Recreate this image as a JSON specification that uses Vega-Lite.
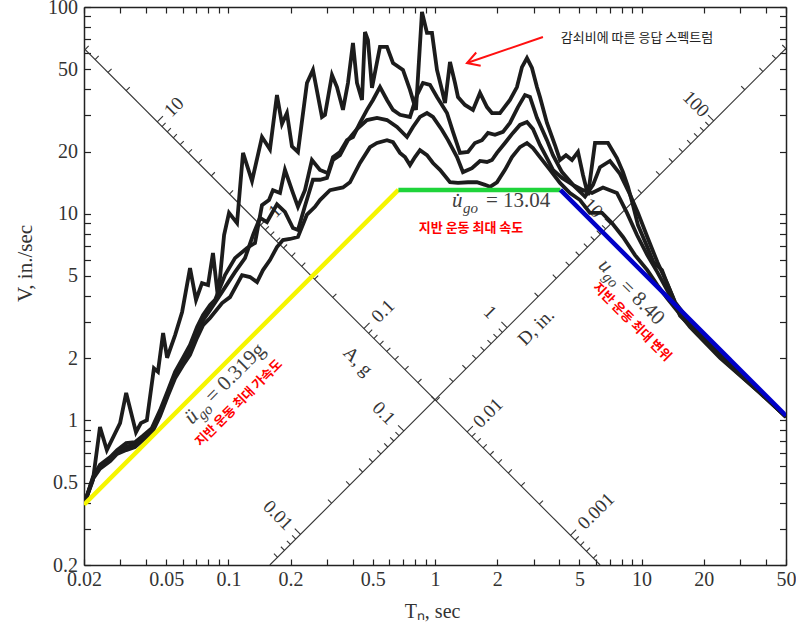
{
  "$schema": "https://vega.github.io/schema/vega-lite/v6.json",
  "width": 702,
  "height": 558,
  "autosize": {"type": "none"},
  "padding": {"left": 84, "top": 7, "right": 10, "bottom": 61},
  "background": "white",
  "config": {"view": {"stroke": null}},
  "datasets": {
    "spec": [
      {"c":1,"T":0.0202,"V":0.403},{"c":1,"T":0.0221,"V":0.515},{"c":1,"T":0.0239,"V":0.929},{"c":1,"T":0.0258,"V":0.72},{"c":1,"T":0.0299,"V":0.971},{"c":1,"T":0.0320,"V":1.36},{"c":1,"T":0.0357,"V":0.878},{"c":1,"T":0.0377,"V":0.971},{"c":1,"T":0.0403,"V":1.004},{"c":1,"T":0.0436,"V":1.79},{"c":1,"T":0.0456,"V":1.72},{"c":1,"T":0.0483,"V":2.65},{"c":1,"T":0.0505,"V":2.01},{"c":1,"T":0.0552,"V":2.59},{"c":1,"T":0.0597,"V":3.35},{"c":1,"T":0.0652,"V":5.46},{"c":1,"T":0.0697,"V":3.83},{"c":1,"T":0.0745,"V":4.62},{"c":1,"T":0.0797,"V":4.52},{"c":1,"T":0.0842,"V":6.46},{"c":1,"T":0.0891,"V":3.9},{"c":1,"T":0.0953,"V":7.89},{"c":1,"T":0.1007,"V":10.1},{"c":1,"T":0.1101,"V":9.01},{"c":1,"T":0.1177,"V":19.7},{"c":1,"T":0.1301,"V":14.4},{"c":1,"T":0.1454,"V":23.5},{"c":1,"T":0.1589,"V":20.5},{"c":1,"T":0.1718,"V":37.5},{"c":1,"T":0.1817,"V":27.2},{"c":1,"T":0.1920,"V":30.7},{"c":1,"T":0.2030,"V":21.2},{"c":1,"T":0.2171,"V":19.9},{"c":1,"T":0.2400,"V":42.9},{"c":1,"T":0.2566,"V":49.6},{"c":1,"T":0.2837,"V":29.4},{"c":1,"T":0.2934,"V":30.1},{"c":1,"T":0.3172,"V":46.9},{"c":1,"T":0.3353,"V":41.0},{"c":1,"T":0.3585,"V":31.8},{"c":1,"T":0.3791,"V":42.9},{"c":1,"T":0.4008,"V":67.0},{"c":1,"T":0.4191,"V":42.9},{"c":1,"T":0.4432,"V":35.5},{"c":1,"T":0.4582,"V":75.7},{"c":1,"T":0.4738,"V":69.2},{"c":1,"T":0.4954,"V":40.6},{"c":1,"T":0.5416,"V":64.1},{"c":1,"T":0.5856,"V":64.1},{"c":1,"T":0.6261,"V":53.6},{"c":1,"T":0.6998,"V":49.6},{"c":1,"T":0.7566,"V":39.7},{"c":1,"T":0.8089,"V":31.8},{"c":1,"T":0.8648,"V":94.6},{"c":1,"T":0.9145,"V":74.9},{"c":1,"T":0.9669,"V":74.9},{"c":1,"T":1.0223,"V":49.6},{"c":1,"T":1.081,"V":39.7},{"c":1,"T":1.118,"V":34.3},{"c":1,"T":1.182,"V":54.2},{"c":1,"T":1.250,"V":42.9},{"c":1,"T":1.292,"V":36.7},{"c":1,"T":1.397,"V":33.6},{"c":1,"T":1.527,"V":31.8},{"c":1,"T":1.651,"V":38.4},{"c":1,"T":1.785,"V":32.8},{"c":1,"T":1.887,"V":30.7},{"c":1,"T":2.063,"V":30.7},{"c":1,"T":2.306,"V":35.5},{"c":1,"T":2.493,"V":41.0},{"c":1,"T":2.636,"V":51.2},{"c":1,"T":2.787,"V":56.6},{"c":1,"T":2.947,"V":50.7},{"c":1,"T":3.115,"V":41.0},{"c":1,"T":3.222,"V":36.7},{"c":1,"T":3.483,"V":27.5},{"c":1,"T":3.808,"V":21.5},{"c":1,"T":4.027,"V":18.2},{"c":1,"T":4.306,"V":19.2},{"c":1,"T":4.604,"V":18.2},{"c":1,"T":4.922,"V":19.9},{"c":1,"T":5.204,"V":15.4},{"c":1,"T":5.503,"V":12.3},{"c":1,"T":5.950,"V":22.0},{"c":1,"T":6.874,"V":22.0},{"c":1,"T":7.597,"V":18.6},{"c":1,"T":8.128,"V":15.9},{"c":1,"T":8.593,"V":13.5},{"c":1,"T":9.085,"V":11.0},{"c":1,"T":9.607,"V":8.81},{"c":1,"T":10.66,"V":6.90},{"c":1,"T":11.40,"V":5.84},{"c":1,"T":12.55,"V":5.34},{"c":1,"T":13.27,"V":4.62},{"c":1,"T":14.03,"V":4.04},{"c":1,"T":15.34,"V":3.21},{"c":1,"T":19.17,"V":2.59},{"c":1,"T":23.96,"V":2.10},{"c":1,"T":29.94,"V":1.70},{"c":1,"T":37.4,"V":1.38},{"c":1,"T":50,"V":1.041},

      {"c":2,"T":0.0202,"V":0.403},{"c":2,"T":0.0221,"V":0.533},{"c":2,"T":0.0239,"V":0.610},{"c":2,"T":0.0268,"V":0.666},{"c":2,"T":0.0289,"V":0.719},{"c":2,"T":0.0320,"V":0.777},{"c":2,"T":0.0353,"V":0.786},{"c":2,"T":0.0386,"V":0.845},{"c":2,"T":0.0426,"V":0.919},{"c":2,"T":0.0467,"V":1.122},{"c":2,"T":0.0510,"V":1.40},{"c":2,"T":0.0552,"V":1.72},{"c":2,"T":0.0603,"V":2.01},{"c":2,"T":0.0652,"V":2.32},{"c":2,"T":0.0705,"V":2.83},{"c":2,"T":0.0754,"V":3.24},{"c":2,"T":0.0815,"V":3.62},{"c":2,"T":0.0862,"V":3.83},{"c":2,"T":0.0963,"V":5.05},{"c":2,"T":0.1076,"V":6.10},{"c":2,"T":0.1231,"V":6.83},{"c":2,"T":0.1345,"V":7.22},{"c":2,"T":0.1454,"V":11.0},{"c":2,"T":0.1572,"V":11.65},{"c":2,"T":0.1643,"V":13.0},{"c":2,"T":0.1777,"V":12.6},{"c":2,"T":0.1878,"V":16.3},{"c":2,"T":0.2030,"V":13.0},{"c":2,"T":0.2171,"V":10.8},{"c":2,"T":0.2347,"V":13.0},{"c":2,"T":0.2537,"V":18.2},{"c":2,"T":0.2775,"V":16.3},{"c":2,"T":0.3034,"V":15.7},{"c":2,"T":0.3207,"V":18.8},{"c":2,"T":0.3468,"V":19.9},{"c":2,"T":0.3749,"V":22.7},{"c":2,"T":0.4008,"V":23.5},{"c":2,"T":0.4334,"V":27.5},{"c":2,"T":0.4685,"V":31.8},{"c":2,"T":0.5010,"V":35.5},{"c":2,"T":0.5416,"V":41.0},{"c":2,"T":0.5856,"V":35.5},{"c":2,"T":0.6261,"V":31.8},{"c":2,"T":0.6768,"V":30.1},{"c":2,"T":0.7566,"V":29.4},{"c":2,"T":0.8180,"V":37.5},{"c":2,"T":0.8745,"V":42.9},{"c":2,"T":0.9456,"V":42.0},{"c":2,"T":1.0223,"V":36.7},{"c":2,"T":1.143,"V":30.7},{"c":2,"T":1.222,"V":24.9},{"c":2,"T":1.321,"V":19.7},{"c":2,"T":1.444,"V":19.9},{"c":2,"T":1.561,"V":22.0},{"c":2,"T":1.688,"V":22.7},{"c":2,"T":1.805,"V":24.6},{"c":2,"T":1.951,"V":24.1},{"c":2,"T":2.133,"V":24.9},{"c":2,"T":2.306,"V":27.5},{"c":2,"T":2.521,"V":32.8},{"c":2,"T":2.726,"V":37.5},{"c":2,"T":2.882,"V":36.7},{"c":2,"T":3.115,"V":29.1},{"c":2,"T":3.483,"V":22.7},{"c":2,"T":3.724,"V":19.2},{"c":2,"T":4.118,"V":15.9},{"c":2,"T":4.655,"V":13.8},{"c":2,"T":5.322,"V":12.1},{"c":2,"T":5.819,"V":13.8},{"c":2,"T":6.290,"V":16.8},{"c":2,"T":7.030,"V":18.0},{"c":2,"T":7.860,"V":15.6},{"c":2,"T":8.787,"V":12.4},{"c":2,"T":9.607,"V":10.1},{"c":2,"T":10.66,"V":7.72},{"c":2,"T":11.92,"V":5.84},{"c":2,"T":13.27,"V":4.62},{"c":2,"T":14.51,"V":3.74},{"c":2,"T":17.15,"V":3.00},{"c":2,"T":23.96,"V":2.06},{"c":2,"T":37.4,"V":1.37},{"c":2,"T":50,"V":1.041},

      {"c":3,"T":0.0202,"V":0.403},{"c":3,"T":0.0221,"V":0.527},{"c":3,"T":0.0239,"V":0.597},{"c":3,"T":0.0268,"V":0.651},{"c":3,"T":0.0289,"V":0.704},{"c":3,"T":0.0320,"V":0.744},{"c":3,"T":0.0353,"V":0.770},{"c":3,"T":0.0386,"V":0.827},{"c":3,"T":0.0426,"V":0.898},{"c":3,"T":0.0467,"V":1.088},{"c":3,"T":0.0510,"V":1.36},{"c":3,"T":0.0552,"V":1.66},{"c":3,"T":0.0603,"V":1.92},{"c":3,"T":0.0652,"V":2.19},{"c":3,"T":0.0705,"V":2.68},{"c":3,"T":0.0754,"V":3.06},{"c":3,"T":0.0815,"V":3.42},{"c":3,"T":0.0932,"V":4.19},{"c":3,"T":0.1076,"V":5.22},{"c":3,"T":0.1203,"V":6.10},{"c":3,"T":0.1316,"V":7.89},{"c":3,"T":0.1422,"V":9.56},{"c":3,"T":0.1537,"V":9.12},{"c":3,"T":0.1718,"V":11.1},{"c":3,"T":0.1878,"V":10.2},{"c":3,"T":0.2053,"V":8.53},{"c":3,"T":0.2171,"V":8.34},{"c":3,"T":0.2347,"V":10.9},{"c":3,"T":0.2566,"V":14.6},{"c":3,"T":0.2775,"V":14.6},{"c":3,"T":0.3000,"V":14.9},{"c":3,"T":0.3207,"V":18.2},{"c":3,"T":0.3468,"V":19.2},{"c":3,"T":0.3791,"V":22.7},{"c":3,"T":0.4191,"V":25.7},{"c":3,"T":0.4685,"V":28.4},{"c":3,"T":0.5238,"V":29.1},{"c":3,"T":0.5856,"V":28.4},{"c":3,"T":0.6547,"V":26.3},{"c":3,"T":0.7317,"V":23.5},{"c":3,"T":0.7823,"V":26.3},{"c":3,"T":0.8458,"V":29.4},{"c":3,"T":0.9145,"V":30.7},{"c":3,"T":0.9777,"V":29.4},{"c":3,"T":1.081,"V":25.4},{"c":3,"T":1.156,"V":22.7},{"c":3,"T":1.278,"V":18.8},{"c":3,"T":1.366,"V":15.9},{"c":3,"T":1.510,"V":16.6},{"c":3,"T":1.651,"V":18.0},{"c":3,"T":1.785,"V":17.8},{"c":3,"T":1.887,"V":18.2},{"c":3,"T":1.995,"V":19.7},{"c":3,"T":2.181,"V":22.0},{"c":3,"T":2.384,"V":24.6},{"c":3,"T":2.578,"V":26.9},{"c":3,"T":2.787,"V":27.8},{"c":3,"T":2.980,"V":25.7},{"c":3,"T":3.222,"V":21.5},{"c":3,"T":3.483,"V":18.6},{"c":3,"T":3.724,"V":16.3},{"c":3,"T":4.118,"V":14.9},{"c":3,"T":4.655,"V":13.8},{"c":3,"T":5.204,"V":13.0},{"c":3,"T":5.754,"V":12.6},{"c":3,"T":6.504,"V":13.4},{"c":3,"T":7.597,"V":12.6},{"c":3,"T":8.497,"V":10.1},{"c":3,"T":9.500,"V":7.89},{"c":3,"T":10.66,"V":6.31},{"c":3,"T":11.92,"V":5.22},{"c":3,"T":13.27,"V":4.28},{"c":3,"T":14.51,"V":3.62},{"c":3,"T":17.15,"V":2.90},{"c":3,"T":23.96,"V":2.03},{"c":3,"T":37.4,"V":1.36},{"c":3,"T":50,"V":1.041},

      {"c":4,"T":0.0202,"V":0.403},{"c":4,"T":0.0221,"V":0.521},{"c":4,"T":0.0239,"V":0.584},{"c":4,"T":0.0268,"V":0.637},{"c":4,"T":0.0289,"V":0.689},{"c":4,"T":0.0320,"V":0.719},{"c":4,"T":0.0353,"V":0.744},{"c":4,"T":0.0386,"V":0.804},{"c":4,"T":0.0426,"V":0.868},{"c":4,"T":0.0467,"V":1.052},{"c":4,"T":0.0510,"V":1.32},{"c":4,"T":0.0552,"V":1.60},{"c":4,"T":0.0603,"V":1.85},{"c":4,"T":0.0652,"V":2.08},{"c":4,"T":0.0705,"V":2.51},{"c":4,"T":0.0754,"V":2.89},{"c":4,"T":0.0815,"V":3.13},{"c":4,"T":0.0932,"V":3.70},{"c":4,"T":0.1018,"V":3.95},{"c":4,"T":0.1164,"V":5.05},{"c":4,"T":0.1272,"V":4.94},{"c":4,"T":0.1376,"V":4.67},{"c":4,"T":0.1470,"V":5.34},{"c":4,"T":0.1589,"V":5.97},{"c":4,"T":0.1718,"V":6.90},{"c":4,"T":0.1837,"V":7.46},{"c":4,"T":0.1986,"V":7.55},{"c":4,"T":0.2171,"V":7.72},{"c":4,"T":0.2400,"V":9.9},{"c":4,"T":0.2624,"V":10.8},{"c":4,"T":0.2775,"V":11.65},{"c":4,"T":0.3102,"V":13.0},{"c":4,"T":0.3585,"V":13.4},{"c":4,"T":0.3876,"V":14.2},{"c":4,"T":0.4334,"V":17.6},{"c":4,"T":0.4845,"V":21.0},{"c":4,"T":0.5238,"V":22.0},{"c":4,"T":0.5856,"V":22.7},{"c":4,"T":0.6261,"V":22.2},{"c":4,"T":0.6768,"V":19.7},{"c":4,"T":0.7156,"V":18.8},{"c":4,"T":0.7566,"V":17.2},{"c":4,"T":0.7999,"V":18.8},{"c":4,"T":0.8458,"V":20.3},{"c":4,"T":0.9145,"V":19.2},{"c":4,"T":0.9777,"V":17.6},{"c":4,"T":1.057,"V":16.3},{"c":4,"T":1.182,"V":14.2},{"c":4,"T":1.292,"V":14.1},{"c":4,"T":1.444,"V":14.2},{"c":4,"T":1.596,"V":14.2},{"c":4,"T":1.746,"V":13.8},{"c":4,"T":1.846,"V":13.5},{"c":4,"T":1.995,"V":14.2},{"c":4,"T":2.181,"V":16.3},{"c":4,"T":2.358,"V":18.8},{"c":4,"T":2.578,"V":21.0},{"c":4,"T":2.787,"V":22.0},{"c":4,"T":2.980,"V":20.8},{"c":4,"T":3.222,"V":18.8},{"c":4,"T":3.602,"V":16.3},{"c":4,"T":4.027,"V":14.1},{"c":4,"T":4.502,"V":12.6},{"c":4,"T":5.033,"V":11.65},{"c":4,"T":5.627,"V":10.1},{"c":4,"T":6.432,"V":10.1},{"c":4,"T":7.188,"V":9.01},{"c":4,"T":8.128,"V":7.72},{"c":4,"T":9.290,"V":6.31},{"c":4,"T":10.66,"V":5.34},{"c":4,"T":11.92,"V":4.52},{"c":4,"T":13.27,"V":3.91},{"c":4,"T":14.51,"V":3.50},{"c":4,"T":17.15,"V":2.83},{"c":4,"T":23.96,"V":2.01},{"c":4,"T":37.4,"V":1.36},{"c":4,"T":50,"V":1.041}
    ],
    "ticks": [
      {"ax":"A","k":"minor","T":5.842,"V":0.2157},{"ax":"A","k":"minor","T":5.409,"V":0.2330},{"ax":"A","k":"minor","T":5.059,"V":0.2490},{"ax":"A","k":"minor","T":4.770,"V":0.2642},{"ax":"A","k":"major","T":4.525,"V":0.2784},
      {"ax":"A","k":"minor","T":3.200,"V":0.3938},{"ax":"A","k":"minor","T":2.613,"V":0.4823},{"ax":"A","k":"minor","T":2.263,"V":0.5569},{"ax":"A","k":"minor","T":2.024,"V":0.6226},{"ax":"A","k":"minor","T":1.847,"V":0.6820},{"ax":"A","k":"minor","T":1.710,"V":0.7367},{"ax":"A","k":"minor","T":1.600,"V":0.7875},{"ax":"A","k":"minor","T":1.508,"V":0.8353},{"ax":"A","k":"major","T":1.431,"V":0.8805},
      {"ax":"A","k":"minor","T":1.0119,"V":1.2452},{"ax":"A","k":"minor","T":0.8262,"V":1.5251},{"ax":"A","k":"minor","T":0.7155,"V":1.761},{"ax":"A","k":"minor","T":0.6400,"V":1.9689},{"ax":"A","k":"minor","T":0.5842,"V":2.1568},{"ax":"A","k":"minor","T":0.5409,"V":2.3296},{"ax":"A","k":"minor","T":0.5059,"V":2.4904},{"ax":"A","k":"minor","T":0.4770,"V":2.6415},{"ax":"A","k":"major","T":0.4525,"V":2.7844},
      {"ax":"A","k":"minor","T":0.3200,"V":3.9377},{"ax":"A","k":"minor","T":0.2613,"V":4.8227},{"ax":"A","k":"minor","T":0.2263,"V":5.5688},{"ax":"A","k":"minor","T":0.2024,"V":6.2261},{"ax":"A","k":"minor","T":0.1847,"V":6.8204},{"ax":"A","k":"minor","T":0.1710,"V":7.3668},{"ax":"A","k":"minor","T":0.1600,"V":7.8755},{"ax":"A","k":"minor","T":0.1508,"V":8.3531},{"ax":"A","k":"major","T":0.1431,"V":8.805},
      {"ax":"A","k":"minor","T":0.10119,"V":12.452},{"ax":"A","k":"minor","T":0.08262,"V":15.251},{"ax":"A","k":"minor","T":0.07155,"V":17.61},{"ax":"A","k":"minor","T":0.06400,"V":19.689},{"ax":"A","k":"minor","T":0.05842,"V":21.568},{"ax":"A","k":"minor","T":0.05409,"V":23.296},{"ax":"A","k":"minor","T":0.05059,"V":24.904},{"ax":"A","k":"minor","T":0.04770,"V":26.415},{"ax":"A","k":"major","T":0.04525,"V":27.844},
      {"ax":"A","k":"minor","T":0.03200,"V":39.377},{"ax":"A","k":"minor","T":0.02613,"V":48.227},{"ax":"A","k":"minor","T":0.02263,"V":55.688},{"ax":"A","k":"minor","T":0.02024,"V":62.261},
      {"ax":"D","k":"minor","T":0.17298,"V":0.21795},{"ax":"D","k":"minor","T":0.18683,"V":0.23541},{"ax":"D","k":"minor","T":0.19974,"V":0.25167},{"ax":"D","k":"minor","T":0.21185,"V":0.26693},{"ax":"D","k":"major","T":0.22331,"V":0.28137},
      {"ax":"D","k":"minor","T":0.31581,"V":0.39791},{"ax":"D","k":"minor","T":0.38679,"V":0.48736},{"ax":"D","k":"minor","T":0.44662,"V":0.56274},{"ax":"D","k":"minor","T":0.49934,"V":0.62916},{"ax":"D","k":"minor","T":0.54700,"V":0.68922},{"ax":"D","k":"minor","T":0.59084,"V":0.74444},{"ax":"D","k":"minor","T":0.63161,"V":0.79583},{"ax":"D","k":"minor","T":0.66993,"V":0.84411},{"ax":"D","k":"major","T":0.70617,"V":0.88977},
      {"ax":"D","k":"minor","T":0.99866,"V":1.2583},{"ax":"D","k":"minor","T":1.2231,"V":1.5411},{"ax":"D","k":"minor","T":1.4123,"V":1.7796},{"ax":"D","k":"minor","T":1.5791,"V":1.9896},{"ax":"D","k":"minor","T":1.7298,"V":2.1795},{"ax":"D","k":"minor","T":1.8683,"V":2.3541},{"ax":"D","k":"minor","T":1.9974,"V":2.5167},{"ax":"D","k":"minor","T":2.1185,"V":2.6693},{"ax":"D","k":"major","T":2.2331,"V":2.8137},
      {"ax":"D","k":"minor","T":3.1581,"V":3.9791},{"ax":"D","k":"minor","T":3.8679,"V":4.8736},{"ax":"D","k":"minor","T":4.4662,"V":5.6274},{"ax":"D","k":"minor","T":4.9934,"V":6.2916},{"ax":"D","k":"minor","T":5.4700,"V":6.8922},{"ax":"D","k":"minor","T":5.9084,"V":7.4444},{"ax":"D","k":"minor","T":6.3161,"V":7.9583},{"ax":"D","k":"minor","T":6.6993,"V":8.4411},{"ax":"D","k":"major","T":7.0617,"V":8.8977},
      {"ax":"D","k":"minor","T":9.9866,"V":12.583},{"ax":"D","k":"minor","T":12.231,"V":15.411},{"ax":"D","k":"minor","T":14.123,"V":17.796},{"ax":"D","k":"minor","T":15.791,"V":19.896},{"ax":"D","k":"minor","T":17.298,"V":21.795},{"ax":"D","k":"minor","T":18.683,"V":23.541},{"ax":"D","k":"minor","T":19.974,"V":25.167},{"ax":"D","k":"minor","T":21.185,"V":26.693},{"ax":"D","k":"major","T":22.331,"V":28.137},
      {"ax":"D","k":"minor","T":31.581,"V":39.791},{"ax":"D","k":"minor","T":38.679,"V":48.736},{"ax":"D","k":"minor","T":44.662,"V":56.274},{"ax":"D","k":"minor","T":49.934,"V":62.916}
    ]
  },
  "layer": [
    {
      "data": {"values": [{"T":0.02,"V":63.0,"T2":6.3,"V2":0.2},{"T":0.15873,"V":0.2,"T2":50,"V2":63.0}]},
      "mark": {"type": "rule", "stroke": "#333333", "strokeWidth": 1.1, "clip": true},
      "encoding": {
        "x": {"field":"T","type":"quantitative","scale":{"type":"log","domain":[0.02,50],"nice":false},
          "axis": {"orient":"top","values":[0.02,0.03,0.04,0.05,0.06,0.07,0.08,0.09,0.1,0.2,0.3,0.4,0.5,0.6,0.7,0.8,0.9,1,2,3,4,5,6,7,8,9,10,20,30,40,50],"labels":false,"title":null,"grid":false,"tickSize":-6,"tickColor":"#222222","tickWidth":1.2,"domainColor":"#222222","domainWidth":1.5}},
        "y": {"field":"V","type":"quantitative","scale":{"type":"log","domain":[0.2,100],"nice":false},
          "axis": {"orient":"right","values":[0.2,0.3,0.4,0.5,0.6,0.7,0.8,0.9,1,2,3,4,5,6,7,8,9,10,20,30,40,50,60,70,80,90,100],"labels":false,"title":null,"grid":false,"tickSize":-6.5,"tickColor":"#222222","tickWidth":1.2,"domainColor":"#222222","domainWidth":1.5}},
        "x2": {"field":"T2"},
        "y2": {"field":"V2"}
      }
    },
    {
      "data": {"name": "ticks"},
      "transform": [{"filter": "datum.ax == 'A' && datum.k == 'major'"}],
      "mark": {"type": "rule", "stroke": "#333333", "strokeWidth": 1.1, "x2Offset": 5.7, "y2Offset": -5.7},
      "encoding": {
        "x": {"field":"T","type":"quantitative","scale":{"type":"log","domain":[0.02,50],"nice":false},"axis":null},
        "y": {"field":"V","type":"quantitative","scale":{"type":"log","domain":[0.2,100],"nice":false},"axis":null},
        "x2": {"field":"T"},
        "y2": {"field":"V"}
      }
    },
    {
      "data": {"name": "ticks"},
      "transform": [{"filter": "datum.ax == 'A' && datum.k == 'minor'"}],
      "mark": {"type": "rule", "stroke": "#333333", "strokeWidth": 1.1, "x2Offset": 3.6, "y2Offset": -3.6},
      "encoding": {
        "x": {"field":"T","type":"quantitative","scale":{"type":"log","domain":[0.02,50],"nice":false},"axis":null},
        "y": {"field":"V","type":"quantitative","scale":{"type":"log","domain":[0.2,100],"nice":false},"axis":null},
        "x2": {"field":"T"},
        "y2": {"field":"V"}
      }
    },
    {
      "data": {"name": "ticks"},
      "transform": [{"filter": "datum.ax == 'D' && datum.k == 'major'"}],
      "mark": {"type": "rule", "stroke": "#333333", "strokeWidth": 1.1, "x2Offset": -5.7, "y2Offset": -5.7},
      "encoding": {
        "x": {"field":"T","type":"quantitative","scale":{"type":"log","domain":[0.02,50],"nice":false},"axis":null},
        "y": {"field":"V","type":"quantitative","scale":{"type":"log","domain":[0.2,100],"nice":false},"axis":null},
        "x2": {"field":"T"},
        "y2": {"field":"V"}
      }
    },
    {
      "data": {"name": "ticks"},
      "transform": [{"filter": "datum.ax == 'D' && datum.k == 'minor'"}],
      "mark": {"type": "rule", "stroke": "#333333", "strokeWidth": 1.1, "x2Offset": -3.6, "y2Offset": -3.6},
      "encoding": {
        "x": {"field":"T","type":"quantitative","scale":{"type":"log","domain":[0.02,50],"nice":false},"axis":null},
        "y": {"field":"V","type":"quantitative","scale":{"type":"log","domain":[0.2,100],"nice":false},"axis":null},
        "x2": {"field":"T"},
        "y2": {"field":"V"}
      }
    },
    {
      "data": {"values": [{"t":"10","T":0.0545,"V":32.8},{"t":"1","T":0.168,"V":10.3},{"t":"0.1","T":0.560,"V":3.38},{"t":"0.01","T":1.805,"V":1.086},{"t":"0.001","T":6.015,"V":0.3644},{"t":"D, in.","T":3.083,"V":2.83}]},
      "mark": {"type":"text","angle":315,"font":"Liberation Serif","fontSize":19,"color":"#333333","align":"center","baseline":"middle"},
      "encoding": {
        "x": {"field":"T","type":"quantitative","scale":{"type":"log","domain":[0.02,50],"nice":false},"axis":null},
        "y": {"field":"V","type":"quantitative","scale":{"type":"log","domain":[0.2,100],"nice":false},"axis":null},
        "text": {"field":"t"}
      }
    },
    {
      "data": {"values": [{"t":"0.01","T":0.1738,"V":0.3485},{"t":"0.1","T":0.566,"V":1.086},{"t":"1","T":1.846,"V":3.345},{"t":"10","T":5.817,"V":10.66},{"t":"100","T":18.33,"V":33.95},{"t":"A, g","T":0.424,"V":1.939}]},
      "mark": {"type":"text","angle":45,"font":"Liberation Serif","fontSize":19,"color":"#333333","align":"center","baseline":"middle"},
      "encoding": {
        "x": {"field":"T","type":"quantitative","scale":{"type":"log","domain":[0.02,50],"nice":false},"axis":null},
        "y": {"field":"V","type":"quantitative","scale":{"type":"log","domain":[0.2,100],"nice":false},"axis":null},
        "text": {"field":"t"}
      }
    },
    {
      "data": {"name": "spec"},
      "mark": {"type": "line", "stroke": "#1c1c1c", "strokeWidth": 3.8, "clip": true},
      "encoding": {
        "x": {"field":"T","type":"quantitative","scale":{"type":"log","domain":[0.02,50],"nice":false},
          "axis": {"orient":"bottom","values":[0.02,0.03,0.04,0.05,0.06,0.07,0.08,0.09,0.1,0.2,0.3,0.4,0.5,0.6,0.7,0.8,0.9,1,2,3,4,5,6,7,8,9,10,20,30,40,50],"format":"~g","labelExpr":"indexof([0.02,0.05,0.1,0.2,0.5,1,2,5,10,20,50], datum.value) >= 0 ? datum.label : ''","labelOverlap":false,"labelFlush":false,"labelBound":false,"labelFont":"Liberation Serif","labelFontSize":20,"labelColor":"#333333","labelPadding":10,"grid":false,"tickSize":-6,"tickColor":"#222222","tickWidth":1.2,"domainColor":"#222222","domainWidth":1.5,"title":"Tₙ, sec","titleFont":"Liberation Serif","titleFontSize":20,"titleFontWeight":"normal","titleColor":"#333333","titleX":348,"titleY":46,"titleBaseline":"middle","titleAlign":"center"}},
        "y": {"field":"V","type":"quantitative","scale":{"type":"log","domain":[0.2,100],"nice":false},
          "axis": {"orient":"left","values":[0.2,0.3,0.4,0.5,0.6,0.7,0.8,0.9,1,2,3,4,5,6,7,8,9,10,20,30,40,50,60,70,80,90,100],"format":"~g","labelExpr":"indexof([0.2,0.5,1,2,5,10,20,50,100], datum.value) >= 0 ? datum.label : ''","labelOverlap":false,"labelFlush":false,"labelBound":false,"labelFont":"Liberation Serif","labelFontSize":20,"labelColor":"#333333","labelPadding":13,"grid":false,"tickSize":-6.5,"tickColor":"#222222","tickWidth":1.2,"domainColor":"#222222","domainWidth":1.5,"title":"V, in./sec","titleFont":"Liberation Serif","titleFontSize":21,"titleFontWeight":"normal","titleColor":"#333333","titleX":-59,"titleY":256,"titleAngle":270,"titleBaseline":"middle","titleAlign":"center"}},
        "detail": {"field":"c","type":"nominal"}
      }
    },
    {
      "data": {"values": [{"seg":"acc","T":0.02,"V":0.392,"T2":0.665,"V2":13.04},{"seg":"vel","T":0.665,"V":13.04,"T2":4.047,"V2":13.04},{"seg":"disp","T":4.047,"V":13.04,"T2":50,"V2":1.056}]},
      "mark": {"type": "rule", "strokeWidth": 4.5, "clip": true},
      "encoding": {
        "x": {"field":"T","type":"quantitative","scale":{"type":"log","domain":[0.02,50],"nice":false},"axis":null},
        "y": {"field":"V","type":"quantitative","scale":{"type":"log","domain":[0.2,100],"nice":false},"axis":null},
        "x2": {"field":"T2"},
        "y2": {"field":"V2"},
        "color": {"field":"seg","type":"nominal","scale":{"domain":["acc","vel","disp"],"range":["#f5f500","#1fd43a","#0000c8"]},"legend":null}
      }
    },
    {
      "data": {"values": [{"T":3.331,"V":71.6,"T2":1.428,"V2":53.6}]},
      "mark": {"type": "rule", "stroke": "#ff1010", "strokeWidth": 2},
      "encoding": {
        "x": {"field":"T","type":"quantitative","scale":{"type":"log","domain":[0.02,50],"nice":false},"axis":null},
        "y": {"field":"V","type":"quantitative","scale":{"type":"log","domain":[0.2,100],"nice":false},"axis":null},
        "x2": {"field":"T2"},
        "y2": {"field":"V2"}
      }
    },
    {
      "data": {"values": [{"T":1.428,"V":53.6}]},
      "mark": {"type": "point", "shape": "M0.98,0.19L0,0L0.66,-0.75", "size": 784, "filled": false, "stroke": "#ff1010", "strokeWidth": 2, "opacity": 1},
      "encoding": {
        "x": {"field":"T","type":"quantitative","scale":{"type":"log","domain":[0.02,50],"nice":false},"axis":null},
        "y": {"field":"V","type":"quantitative","scale":{"type":"log","domain":[0.2,100],"nice":false},"axis":null}
      }
    },
    {
      "data": {"values": [{"t":"감쇠비에 따른 응답 스펙트럼","T":9.50,"V":70.8}]},
      "mark": {"type":"text","font":"Noto Sans CJK KR","fontSize":13,"color":"#222222","align":"center","baseline":"middle"},
      "encoding": {
        "x": {"field":"T","type":"quantitative","scale":{"type":"log","domain":[0.02,50],"nice":false},"axis":null},
        "y": {"field":"V","type":"quantitative","scale":{"type":"log","domain":[0.2,100],"nice":false},"axis":null},
        "text": {"field":"t"}
      }
    },
    {
      "data": {"values": [{"t":"지반 운동 최대 가속도","T":0.1125,"V":1.214}]},
      "mark": {"type":"text","angle":315,"font":"Noto Sans CJK KR","fontSize":13,"fontWeight":"bold","color":"#ff0000","align":"center","baseline":"middle"},
      "encoding": {
        "x": {"field":"T","type":"quantitative","scale":{"type":"log","domain":[0.02,50],"nice":false},"axis":null},
        "y": {"field":"V","type":"quantitative","scale":{"type":"log","domain":[0.2,100],"nice":false},"axis":null},
        "text": {"field":"t"}
      }
    },
    {
      "data": {"values": [{"t":"지반 운동 최대 속도","T":1.494,"V":8.527}]},
      "mark": {"type":"text","font":"Noto Sans CJK KR","fontSize":13,"fontWeight":"bold","color":"#ff0000","align":"center","baseline":"middle"},
      "encoding": {
        "x": {"field":"T","type":"quantitative","scale":{"type":"log","domain":[0.02,50],"nice":false},"axis":null},
        "y": {"field":"V","type":"quantitative","scale":{"type":"log","domain":[0.2,100],"nice":false},"axis":null},
        "text": {"field":"t"}
      }
    },
    {
      "data": {"values": [{"t":"지반 운동 최대 변위","T":8.985,"V":2.993}]},
      "mark": {"type":"text","angle":45,"font":"Noto Sans CJK KR","fontSize":13,"fontWeight":"bold","color":"#ff0000","align":"center","baseline":"middle"},
      "encoding": {
        "x": {"field":"T","type":"quantitative","scale":{"type":"log","domain":[0.02,50],"nice":false},"axis":null},
        "y": {"field":"V","type":"quantitative","scale":{"type":"log","domain":[0.2,100],"nice":false},"axis":null},
        "text": {"field":"t"}
      }
    },
    {
      "data": {"values": [{"t":"ü","T":0.0666,"V":0.950}]},
      "mark": {"type":"text","angle":315,"font":"Liberation Serif","fontSize":21,"fontStyle":"italic","color":"#404040","align":"left","baseline":"alphabetic"},
      "encoding": {
        "x": {"field":"T","type":"quantitative","scale":{"type":"log","domain":[0.02,50],"nice":false},"axis":null},
        "y": {"field":"V","type":"quantitative","scale":{"type":"log","domain":[0.2,100],"nice":false},"axis":null},
        "text": {"field":"t"}
      }
    },
    {
      "data": {"values": [{"t":"go","T":0.0666,"V":0.950}]},
      "mark": {"type":"text","angle":315,"dx":11,"dy":5,"font":"Liberation Serif","fontSize":15,"fontStyle":"italic","color":"#404040","align":"left","baseline":"alphabetic"},
      "encoding": {
        "x": {"field":"T","type":"quantitative","scale":{"type":"log","domain":[0.02,50],"nice":false},"axis":null},
        "y": {"field":"V","type":"quantitative","scale":{"type":"log","domain":[0.2,100],"nice":false},"axis":null},
        "text": {"field":"t"}
      }
    },
    {
      "data": {"values": [{"t":"= 0.319g","T":0.0666,"V":0.950}]},
      "mark": {"type":"text","angle":315,"dx":30,"font":"Liberation Serif","fontSize":21,"color":"#404040","align":"left","baseline":"alphabetic"},
      "encoding": {
        "x": {"field":"T","type":"quantitative","scale":{"type":"log","domain":[0.02,50],"nice":false},"axis":null},
        "y": {"field":"V","type":"quantitative","scale":{"type":"log","domain":[0.2,100],"nice":false},"axis":null},
        "text": {"field":"t"}
      }
    },
    {
      "data": {"values": [{"t":"u̇","T":1.208,"V":10.78}]},
      "mark": {"type":"text","font":"Liberation Serif","fontSize":21,"fontStyle":"italic","color":"#404040","align":"left","baseline":"alphabetic"},
      "encoding": {
        "x": {"field":"T","type":"quantitative","scale":{"type":"log","domain":[0.02,50],"nice":false},"axis":null},
        "y": {"field":"V","type":"quantitative","scale":{"type":"log","domain":[0.2,100],"nice":false},"axis":null},
        "text": {"field":"t"}
      }
    },
    {
      "data": {"values": [{"t":"go","T":1.208,"V":10.78}]},
      "mark": {"type":"text","dx":11,"dy":6,"font":"Liberation Serif","fontSize":15,"fontStyle":"italic","color":"#404040","align":"left","baseline":"alphabetic"},
      "encoding": {
        "x": {"field":"T","type":"quantitative","scale":{"type":"log","domain":[0.02,50],"nice":false},"axis":null},
        "y": {"field":"V","type":"quantitative","scale":{"type":"log","domain":[0.2,100],"nice":false},"axis":null},
        "text": {"field":"t"}
      }
    },
    {
      "data": {"values": [{"t":"= 13.04","T":1.208,"V":10.78}]},
      "mark": {"type":"text","dx":34,"font":"Liberation Serif","fontSize":21,"color":"#404040","align":"left","baseline":"alphabetic"},
      "encoding": {
        "x": {"field":"T","type":"quantitative","scale":{"type":"log","domain":[0.02,50],"nice":false},"axis":null},
        "y": {"field":"V","type":"quantitative","scale":{"type":"log","domain":[0.2,100],"nice":false},"axis":null},
        "text": {"field":"t"}
      }
    },
    {
      "data": {"values": [{"t":"u","T":6.116,"V":5.554}]},
      "mark": {"type":"text","angle":45,"font":"Liberation Serif","fontSize":21,"fontStyle":"italic","color":"#404040","align":"left","baseline":"alphabetic"},
      "encoding": {
        "x": {"field":"T","type":"quantitative","scale":{"type":"log","domain":[0.02,50],"nice":false},"axis":null},
        "y": {"field":"V","type":"quantitative","scale":{"type":"log","domain":[0.2,100],"nice":false},"axis":null},
        "text": {"field":"t"}
      }
    },
    {
      "data": {"values": [{"t":"go","T":6.116,"V":5.554}]},
      "mark": {"type":"text","angle":45,"dx":11,"dy":5,"font":"Liberation Serif","fontSize":15,"fontStyle":"italic","color":"#404040","align":"left","baseline":"alphabetic"},
      "encoding": {
        "x": {"field":"T","type":"quantitative","scale":{"type":"log","domain":[0.02,50],"nice":false},"axis":null},
        "y": {"field":"V","type":"quantitative","scale":{"type":"log","domain":[0.2,100],"nice":false},"axis":null},
        "text": {"field":"t"}
      }
    },
    {
      "data": {"values": [{"t":"= 8.40","T":6.116,"V":5.554}]},
      "mark": {"type":"text","angle":45,"dx":30,"font":"Liberation Serif","fontSize":21,"color":"#404040","align":"left","baseline":"alphabetic"},
      "encoding": {
        "x": {"field":"T","type":"quantitative","scale":{"type":"log","domain":[0.02,50],"nice":false},"axis":null},
        "y": {"field":"V","type":"quantitative","scale":{"type":"log","domain":[0.2,100],"nice":false},"axis":null},
        "text": {"field":"t"}
      }
    }
  ],
  "resolve": {"axis": {"x": "independent", "y": "independent"}}
}
